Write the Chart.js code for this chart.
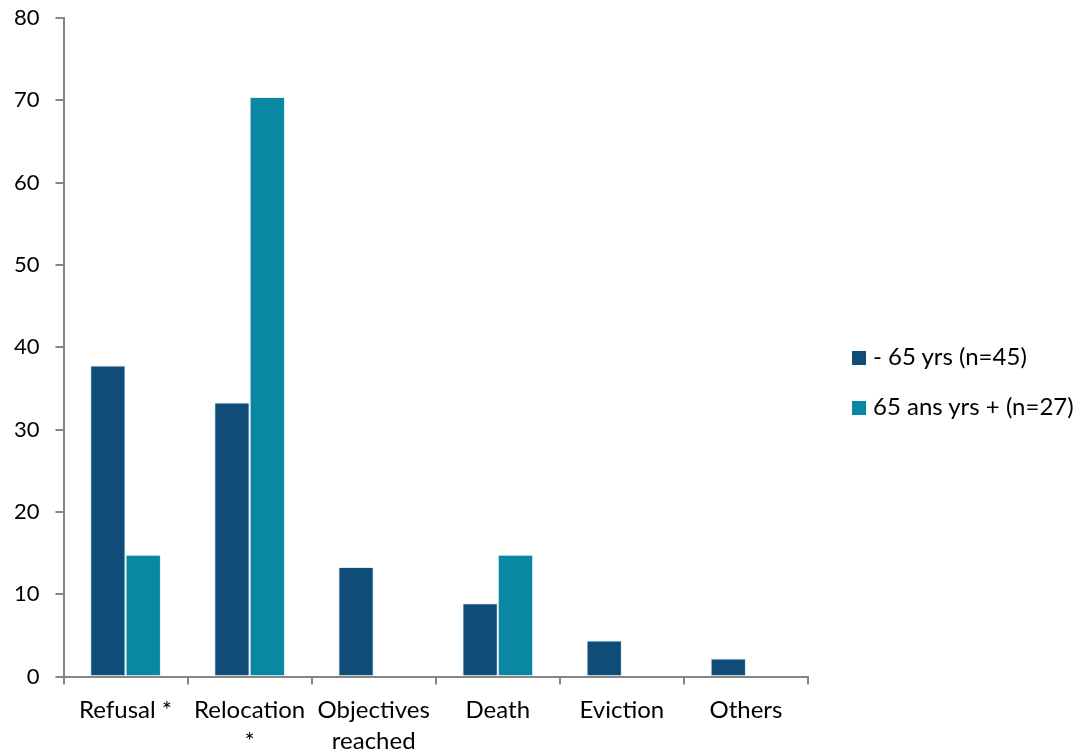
<!DOCTYPE html>
<html>
<head>
<meta charset="utf-8">
<script src="https://cdn.jsdelivr.net/npm/chart.js@4.4.1/dist/chart.umd.min.js"></script>
<style>
  html, body { margin: 0; padding: 0; background: #fff; }
  #wrap { position: relative; width: 1081px; height: 754px; }
  #legend { position: absolute; left: 852px; top: 341px; font-family: Lato, "Open Sans", sans-serif; font-size: 24px; color: #000; }
  #legend .item { height: 30px; line-height: 30px; margin-bottom: 20px; white-space: nowrap; }
  #legend .swatch { display: inline-block; width: 14px; height: 14px; margin-right: 7px; vertical-align: 0px; }
</style>
</head>
<body>
<div id="wrap">
  <canvas id="reasons-chart"></canvas>
  <div id="legend"></div>
</div>
<script>
const categories = ['Refusal *', ['Relocation', '*'], ['Objectives', 'reached'], 'Death', 'Eviction', 'Others'];
const seriesNames = ['- 65 yrs (n=45)', '65 ans yrs + (n=27)'];
const under65 = [37.8, 33.3, 13.3, 8.9, 4.4, 2.2];
const over65 = [14.8, 70.4, null, 14.8, null, null];
const yTicks = [0, 10, 20, 30, 40, 50, 60, 70, 80];
const seriesColors = ['#0F4D78', '#0A87A2'];

const axisGray = '#868686';
const fontFamily = 'Lato, "Open Sans", sans-serif';

// Legend drawn as html next to the plot
const legendBox = document.querySelector('#legend');
seriesNames.forEach((name, i) => {
  const row = document.createElement('div');
  row.className = 'item';
  const sw = document.createElement('span');
  sw.className = 'swatch';
  sw.style.background = seriesColors[i];
  row.appendChild(sw);
  row.appendChild(document.createTextNode(name));
  legendBox.appendChild(row);
});

new Chart(document.querySelector('#reasons-chart'), {
  type: 'bar',
  data: {
    labels: categories,
    datasets: [
      {
        label: seriesNames[0],
        data: under65,
        backgroundColor: seriesColors[0],
        borderColor: 'rgba(220,235,242,0.9)',
        borderWidth: 1
      },
      {
        label: seriesNames[1],
        data: over65,
        backgroundColor: seriesColors[1],
        borderColor: 'rgba(220,235,242,0.9)',
        borderWidth: 1
      }
    ]
  },
  options: {
    responsive: true,
    maintainAspectRatio: false,
    animation: false,
    categoryPercentage: 0.57,
    barPercentage: 1.0,
    layout: {
      padding: { left: -2, top: 18, right: 273, bottom: -13 }
    },
    scales: {
      x: {
        grid: {
          offset: true,
          drawOnChartArea: false,
          drawTicks: true,
          tickLength: 8,
          color: axisGray,
          lineWidth: 2
        },
        border: { color: axisGray, width: 2 },
        ticks: {
          color: '#000',
          padding: 10,
          maxRotation: 0,
          autoSkip: false,
          font: { family: fontFamily, size: 24, lineHeight: 1.3 }
        }
      },
      y: {
        min: 0,
        max: 80,
        afterBuildTicks: axis => {
          axis.ticks = yTicks.map(v => ({ value: v }));
        },
        afterFit: axis => {
          // let the top tick label hang above the plot like the original
          axis.paddingTop = 0;
        },
        grid: {
          drawOnChartArea: false,
          drawTicks: true,
          tickLength: 8,
          color: axisGray,
          lineWidth: 2
        },
        border: { color: axisGray, width: 2 },
        ticks: {
          color: '#000',
          padding: 16,
          font: { family: fontFamily, size: 22 }
        }
      }
    },
    plugins: {
      legend: { display: false },
      tooltip: { enabled: false },
      title: { display: false }
    }
  }
});
</script>
</body>
</html>
